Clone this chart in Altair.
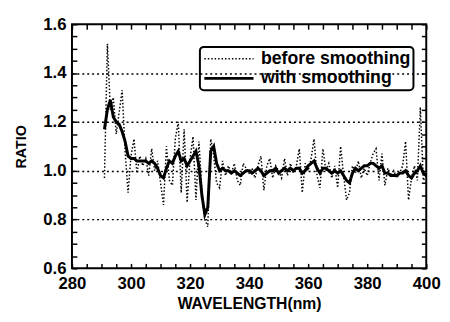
import altair as alt
import pandas as pd

# ---- data ----
WAVELENGTH = list(range(291, 401))
BEFORE = [
    0.97, 1.52, 1.25, 1.30, 1.15, 1.24, 1.33, 1.08, 0.91, 1.06,
    1.13, 0.99, 1.06, 1.02, 1.05, 0.98, 1.09, 1.00, 1.04, 0.95,
    0.86, 1.10, 0.96, 0.94, 1.13, 1.20, 0.91, 1.17, 0.87, 1.05,
    1.14, 0.88, 1.12, 0.92, 0.80, 0.77, 1.13, 1.06, 0.95, 0.93,
    1.04, 0.98, 1.02, 0.99, 1.03, 0.96, 0.94, 1.03, 1.01, 0.99,
    1.01, 0.97, 1.02, 1.06, 0.92, 1.02, 1.05, 0.97, 1.02, 1.00,
    0.97, 1.05, 0.98, 1.03, 0.99, 1.02, 1.09, 0.91, 1.03, 1.00,
    1.05, 1.13, 0.98, 0.93, 1.09, 1.00, 1.03, 0.97, 1.02, 0.93,
    1.10, 0.98, 0.88, 0.91, 1.02, 0.99, 1.04, 0.97, 1.01, 0.98,
    1.03, 1.07, 1.09, 0.96, 1.07, 0.94, 1.01, 0.98, 1.00, 0.97,
    0.99, 1.02, 1.12, 0.88, 0.97, 1.02, 0.96, 1.26, 0.96, 0.98,
]
WITH = [
    1.17, 1.25, 1.29, 1.22, 1.20, 1.19, 1.16, 1.12, 1.06, 1.05,
    1.05, 1.04, 1.04, 1.04, 1.04, 1.03, 1.04, 1.03, 1.01, 0.98,
    0.97, 1.01, 1.04, 1.03, 1.06, 1.08, 1.04, 1.05, 1.02, 1.04,
    1.06, 1.08, 1.02, 0.90, 0.82, 0.85, 1.08, 1.10, 1.03, 1.00,
    1.01, 1.00, 1.00, 0.99, 1.00, 0.99, 0.98, 0.99, 1.00, 1.00,
    0.99, 1.00, 1.01, 1.00, 0.98, 0.99, 1.00, 1.00, 1.01, 0.99,
    1.00, 1.01, 1.00, 1.01, 1.00, 1.01, 1.01, 0.99, 1.00, 1.02,
    1.03, 1.04, 1.01, 0.99, 1.01, 1.01, 1.00, 0.99, 1.00, 0.99,
    1.00, 0.98, 0.96, 0.95, 0.99, 1.01, 1.00, 1.01, 1.02, 1.02,
    1.03, 1.03, 1.02, 1.01, 1.02, 0.99, 0.99, 0.98, 0.98, 0.98,
    0.99, 0.99, 1.00, 0.98, 0.97, 0.99, 1.00, 1.02, 0.99, 0.98,
]
SERIES = ["before smoothing", "with smoothing"]
X_TICKS = [280, 285, 290, 295, 300, 305, 310, 315, 320, 325, 330, 335, 340,
           345, 350, 355, 360, 365, 370, 375, 380, 385, 390, 395, 400]
X_LABELS = [280, 300, 320, 340, 360, 380, 400]
Y_TICKS = [0.6, 0.65, 0.7, 0.75, 0.8, 0.85, 0.9, 0.95, 1.0, 1.05, 1.1,
           1.15, 1.2, 1.25, 1.3, 1.35, 1.4, 1.45, 1.5, 1.55, 1.6]
Y_LABELS = [0.6, 0.8, 1.0, 1.2, 1.4, 1.6]
GRID = [0.8, 1.0, 1.2, 1.4]

df_before = pd.DataFrame({"wl": WAVELENGTH, "ratio": BEFORE, "series": SERIES[0]})
df_with = pd.DataFrame({"wl": WAVELENGTH, "ratio": WITH, "series": SERIES[1]})

FONT = "Liberation Sans"
xscale = alt.Scale(domain=[280, 400], nice=False, zero=False)
yscale = alt.Scale(domain=[0.6, 1.6], nice=False, zero=False)

xlab_js = "[" + ",".join(str(v) for v in X_LABELS) + "]"
ylab_js = "[" + ",".join(str(int(round(v * 10))) for v in Y_LABELS) + "]"
grid_js = "[" + ",".join(str(int(round(v * 10))) for v in GRID) + "]"

tickstyle = dict(domain=False, ticks=True, tickColor="black", tickWidth=1.5,
                 tickSize=5, tickOpacity=1, offset=-5, zindex=2)
common = dict(labelFont=FONT, labelFontSize=17, labelFontWeight="bold",
              labelColor="black", titleFont=FONT, titleFontWeight="bold",
              titleColor="black", labelOverlap=False, labelFlush=False,
              labelBound=False, **tickstyle)

x_bottom = alt.Axis(orient="bottom", values=X_TICKS, title="WAVELENGTH(nm)",
                    labelExpr=f"indexof({xlab_js}, datum.value) >= 0 ? datum.label : ''",
                    labelPadding=7, titlePadding=5, titleFontSize=16, grid=False,
                    **common)
y_left = alt.Axis(orient="left", values=Y_TICKS, title="RATIO",
                  labelExpr=f"indexof({ylab_js}, round(datum.value*10)) >= 0 && abs(datum.value*10 - round(datum.value*10)) < 0.01 ? format(datum.value, '.1f') : ''",
                  labelPadding=6, titlePadding=15, titleFontSize=14.5, grid=True,
                  gridColor="black", gridWidth=1.5, gridDash=[2, 3],
                  gridOpacity={"condition": {"test": f"indexof({grid_js}, round(datum.value*10)) >= 0 && abs(datum.value*10 - round(datum.value*10)) < 0.01", "value": 1}, "value": 0},
                  **common)
x_top = alt.Axis(orient="top", values=X_TICKS, title=None, labels=False, grid=False,
                 **tickstyle)
y_right = alt.Axis(orient="right", values=Y_TICKS, title=None, labels=False, grid=False,
                   **tickstyle)

legend = alt.Legend(title=None)
dash = alt.StrokeDash("series:N", scale=alt.Scale(domain=SERIES, range=[[1.5, 2], [1, 0]]), legend=legend)
swidth = alt.StrokeWidth("series:N", scale=alt.Scale(domain=SERIES, range=[1.5, 3]), legend=legend)

noisy = alt.Chart(df_before).mark_line(color="black").encode(
    x=alt.X("wl:Q", scale=xscale, axis=x_bottom),
    y=alt.Y("ratio:Q", scale=yscale, axis=y_left),
    strokeDash=dash, strokeWidth=swidth,
)
smooth = alt.Chart(df_with).mark_line(color="black").encode(
    x=alt.X("wl:Q", scale=xscale, axis=x_top),
    y=alt.Y("ratio:Q", scale=yscale, axis=y_right),
    strokeDash=dash, strokeWidth=swidth,
)

chart = alt.layer(noisy, smooth).resolve_axis(x="independent", y="independent").properties(
    width=360, height=248,
    padding={"left": 65, "top": 14, "right": 16, "bottom": 52},
    autosize=alt.AutoSizeParams(type="none"),
    background="white",
).configure_view(stroke="black", strokeWidth=2).configure_legend(
    orient="none", legendX=130, legendY=23, fillColor="white", strokeColor="black",
    strokeWidth=2,
    cornerRadius=4, padding=3, rowPadding=2, clipHeight=18,
    symbolType="stroke", symbolSize=2500, symbolStrokeColor="black",
    labelFont=FONT, labelFontSize=18, labelFontWeight="bold", labelColor="black",
    labelOffset=6, labelLimit=300,
)

chart.save("out.html", embed_options={"renderer": "svg", "actions": False})
